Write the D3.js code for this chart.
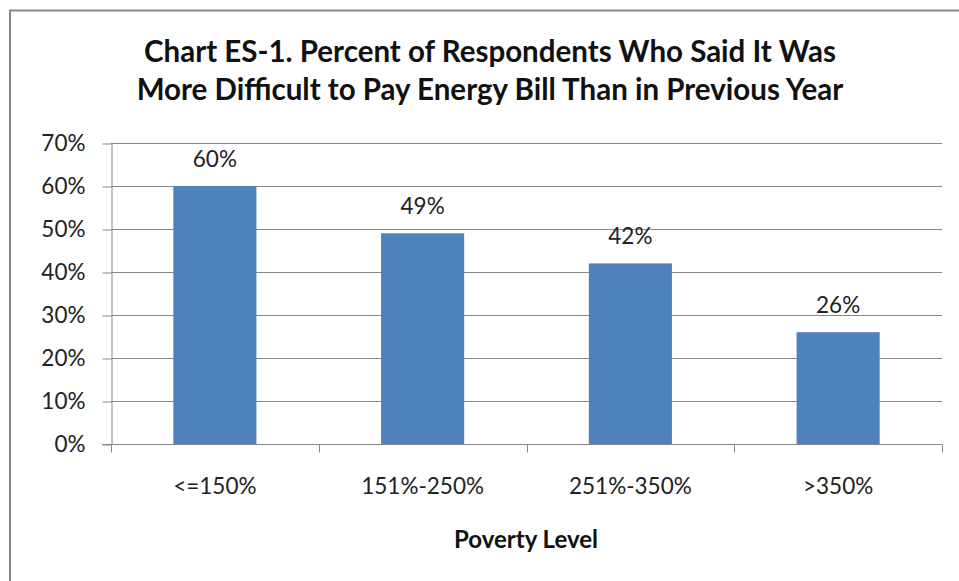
<!DOCTYPE html>
<html><head><meta charset="utf-8">
<script src="https://cdn.jsdelivr.net/npm/d3@7"></script>
<style>
html,body{margin:0;padding:0;background:#fff;}
svg{display:block;font-family:Lato,"Liberation Sans",sans-serif;}
</style></head>
<body>
<svg id="chart" width="959" height="581"></svg>
<script>
const categories = ["<=150%", "151%-250%", "251%-350%", ">350%"];
const values = [60, 49, 42, 26];
const yTicks = [0, 10, 20, 30, 40, 50, 60, 70];
const titleLines = ["Chart ES-1. Percent of Respondents Who Said It Was", "More Difficult to Pay Energy Bill Than in Previous Year"];
const xTitle = "Poverty Level";

const svg = d3.select("#chart");
const W = 959, H = 581;
const m = {left: 111, right: 17, top: 143, bottom: 137};
const x = d3.scaleBand().domain(categories).range([m.left, W - m.right]).paddingInner(0.6).paddingOuter(0.3);
const y = d3.scaleLinear().domain([0, 70]).range([H - m.bottom, m.top]);
const FS = 22.5;

// outer border (only top/left visible)
svg.append("path").attr("d", `M10,${H+5}V10.5H${W+5}`).attr("fill","none").attr("stroke","#878787").attr("stroke-width",2);

// gridlines
svg.append("g").selectAll("line").data(yTicks.filter(d=>d>0)).join("line")
  .attr("x1", m.left).attr("x2", W - m.right)
  .attr("y1", d=>Math.round(y(d))+0.5).attr("y2", d=>Math.round(y(d))+0.5)
  .attr("stroke","#878787").attr("stroke-width",1);

// y axis
const yAxis = svg.append("g").attr("transform",`translate(${m.left+0.5},0)`)
  .call(d3.axisLeft(y).tickValues(yTicks).tickFormat(d=>d+"%").tickSize(9).tickPadding(17).tickSizeOuter(0));
yAxis.select(".domain").attr("stroke","#878787");
yAxis.selectAll(".tick line").attr("stroke","#878787").attr("transform", "translate(0,0.5)");
yAxis.selectAll(".tick text").attr("font-size",FS).attr("fill","#222").attr("font-family","Lato");

// bars
svg.append("g").selectAll("rect").data(values).join("rect")
  .attr("x",(d,i)=>x(categories[i])).attr("width",x.bandwidth())
  .attr("y",d=>y(d)).attr("height",d=>y(0)-y(d))
  .attr("fill","#4f81bd");

// x axis
const step = (W - m.right - m.left)/categories.length;
const xAxisG = svg.append("g").attr("transform",`translate(0,${Math.round(y(0))+0.5})`);
xAxisG.append("line").attr("x1",m.left-9).attr("x2",W-m.right).attr("stroke","#878787");
xAxisG.selectAll(".tk").data(d3.range(categories.length+1)).join("line")
  .attr("x1",i=>Math.round(m.left+i*step)+0.5).attr("x2",i=>Math.round(m.left+i*step)+0.5)
  .attr("y1",0).attr("y2",8).attr("stroke","#878787");
xAxisG.selectAll("text").data(categories).join("text")
  .attr("x",d=>x(d)+x.bandwidth()/2).attr("y",49)
  .attr("text-anchor","middle").attr("font-size",FS).attr("fill","#222").text(d=>d);

// value labels
svg.append("g").selectAll("text").data(values).join("text")
  .attr("x",(d,i)=>x(categories[i])+x.bandwidth()/2).attr("y",d=>y(d)-19)
  .attr("text-anchor","middle").attr("font-size",FS).attr("fill","#222").text(d=>d+"%");

// title
svg.append("g").selectAll("text").data(titleLines).join("text")
  .attr("x",490).attr("y",(d,i)=>62+i*38).attr("text-anchor","middle")
  .attr("font-size",29.5).attr("font-weight","bold").attr("fill","#111").text(d=>d);

// x title
svg.append("text").attr("x",526).attr("y",548).attr("text-anchor","middle")
  .attr("font-size",24).attr("font-weight","bold").attr("fill","#111").text(xTitle);
</script>
</body></html>
